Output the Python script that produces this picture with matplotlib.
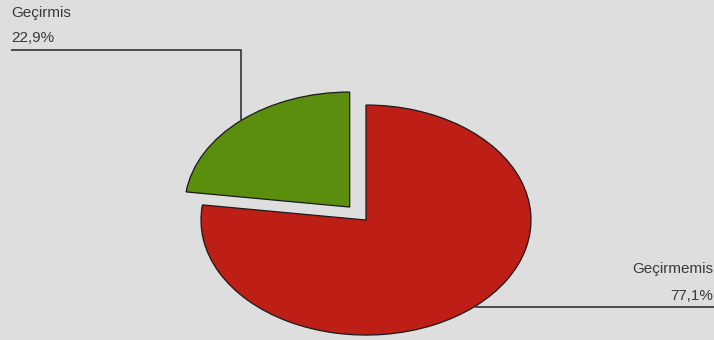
import matplotlib.pyplot as plt
import numpy as np

labels = ["Geçirmis", "Geçirmemis"]
shares = [22.9, 77.1]
pct_text = ["22,9%", "77,1%"]
colors = ["#5b8e0c", "#bd1e16"]

plt.rcParams['font.family'] = ['Liberation Sans', 'DejaVu Sans']

fig = plt.figure(figsize=(7.14, 3.4), dpi=100)
fig.patch.set_facecolor("#dedede")
ax = fig.add_axes([0, 0, 1, 1])
ax.set_facecolor("#dedede")

explode = [0.15, 0]
wedges, _ = ax.pie(shares, colors=colors, startangle=90, counterclock=True,
                   explode=explode,
                   wedgeprops=dict(edgecolor="#1a1a1a", linewidth=0.9))

# stretch the pie into a flat ellipse
ax.set_aspect('auto')
ax.set_xlim(-2.218, 2.109)
ax.set_ylim(-1.043, 1.913)
ax.axis('off')

line_kw = dict(color="#333333", lw=1.2, solid_capstyle='butt')
txt_kw = dict(fontsize=11, color="#3a3a3a")

# leader for the small slice: up from the slice edge, then left
w = wedges[0]
mid = np.deg2rad((w.theta1 + w.theta2) / 2)
cx, cy = w.center
px, py = cx + np.cos(mid), cy + np.sin(mid)
ax.plot([px, px, -2.152], [py, 1.478, 1.478], **line_kw)
ax.text(-2.152, 1.80, labels[0], ha='left', va='center', **txt_kw)
ax.text(-2.152, 1.583, pct_text[0], ha='left', va='center', **txt_kw)

# leader for the large slice: right from the slice edge
w = wedges[1]
mid = np.deg2rad((w.theta1 + w.theta2) / 2)
cx, cy = w.center
px, py = cx + np.cos(mid), cy + np.sin(mid)
ax.plot([px, 2.109], [py, py], **line_kw)
ax.text(2.103, py + 0.33, labels[1], ha='right', va='center', **txt_kw)
ax.text(2.103, py + 0.096, pct_text[1], ha='right', va='center', **txt_kw)

fig.savefig("out.png", dpi=100, facecolor=fig.get_facecolor())
